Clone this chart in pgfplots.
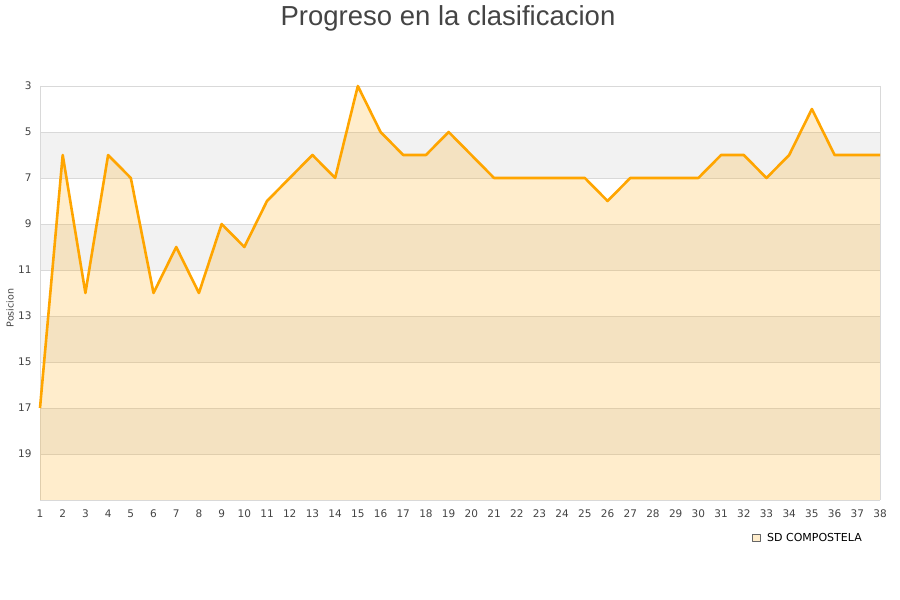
\documentclass[border=0pt]{standalone}
\usepackage{pgfplots}
\pgfplotsset{compat=1.18}
\usepgfplotslibrary{fillbetween}
\usepackage{fontspec}
\setmainfont{DejaVu Sans}
\newfontfamily\titlefont{Liberation Sans}
\definecolor{ora}{RGB}{255,165,0}
\definecolor{gridc}{RGB}{217,217,217}
\definecolor{bandc}{RGB}{242,242,242}
\definecolor{txt}{RGB}{68,68,68}

\begin{document}
\begin{tikzpicture}[x=1pt,y=1pt]
\path (0,0) rectangle (900,600);
\node[font=\titlefont\fontsize{27.5}{30}\selectfont, text=txt] at (448,582) {Progreso en la clasificacion};
\node[rotate=90, font=\fontsize{9.5}{11}\selectfont, text=txt] at (10,292) {Posicion};
\begin{axis}[
	at={(40pt,100pt)}, anchor=south west,
	scale only axis, width=840pt, height=414pt,
	xmin=1, xmax=38, ymin=3, ymax=21,
	y dir=reverse,
	xtick={1,...,38},
	ytick={3,5,...,19},
	axis line style={gridc},
	axis lines*=left,
	tick style={draw=none},
	ymajorgrids, grid style={gridc, line width=0.8pt},
	ticklabel style={font=\fontsize{10.5}{12}\selectfont, text=txt},
	/pgf/number format/assume math mode=true,
	xticklabel style={yshift=-6pt},
	yticklabel style={xshift=-5pt},
	legend style={at={(1,-0.07)}, anchor=north east, draw=none, fill=none,
		font=\fontsize{11}{12}\selectfont, legend cell align=left,
		xshift=-13pt},
	legend image code/.code={\draw[fill=ora!20, draw=black!60, line width=0.4pt] (-0.5pt,-3.5pt) rectangle (7pt,4pt);},
	clip=false,
]
\begin{pgfonlayer}{axis background}
\fill[bandc] (axis cs:1,5) rectangle (axis cs:38,7);
\fill[bandc] (axis cs:1,9) rectangle (axis cs:38,11);
\fill[bandc] (axis cs:1,13) rectangle (axis cs:38,15);
\fill[bandc] (axis cs:1,17) rectangle (axis cs:38,19);
\end{pgfonlayer}
\draw[gridc, line width=0.8pt] (axis cs:38,3) -- (axis cs:38,21);
\addplot[name path=base, draw=none, forget plot] coordinates {(1,21) (38,21)};
\addplot[name path=pos, draw=none, forget plot] coordinates {
(1,17) (2,6) (3,12) (4,6) (5,7) (6,12) (7,10) (8,12) (9,9) (10,10)
(11,8) (12,7) (13,6) (14,7) (15,3) (16,5) (17,6) (18,6) (19,5) (20,6)
(21,7) (22,7) (23,7) (24,7) (25,7) (26,8) (27,7) (28,7) (29,7) (30,7)
(31,6) (32,6) (33,7) (34,6) (35,4) (36,6) (37,6) (38,6)};
\addplot[fill=ora, fill opacity=0.2, draw=none, forget plot] fill between[of=pos and base];
\addplot[ora, line width=2.6pt, line join=round] coordinates {
(1,17) (2,6) (3,12) (4,6) (5,7) (6,12) (7,10) (8,12) (9,9) (10,10)
(11,8) (12,7) (13,6) (14,7) (15,3) (16,5) (17,6) (18,6) (19,5) (20,6)
(21,7) (22,7) (23,7) (24,7) (25,7) (26,8) (27,7) (28,7) (29,7) (30,7)
(31,6) (32,6) (33,7) (34,6) (35,4) (36,6) (37,6) (38,6)};
\addlegendentry{\hspace{5pt}SD COMPOSTELA}
\end{axis}
\end{tikzpicture}
\end{document}
